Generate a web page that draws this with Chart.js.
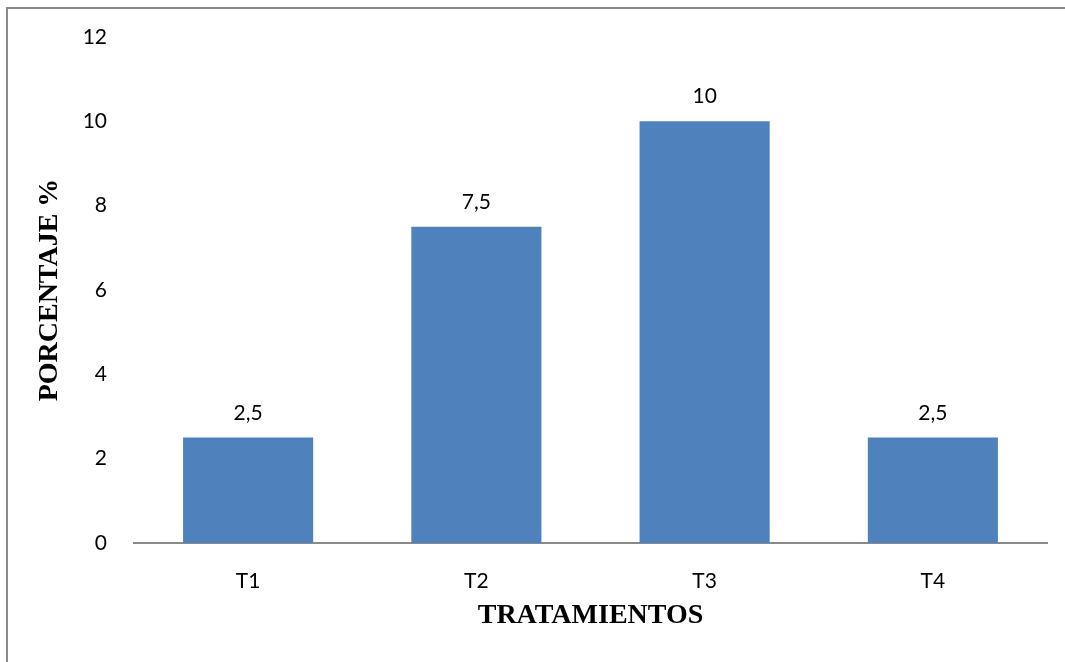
<!DOCTYPE html>
<html>
<head>
<meta charset="utf-8">
<script src="https://cdn.jsdelivr.net/npm/chart.js@4/dist/chart.umd.min.js"></script>
<style>
  html, body { margin: 0; padding: 0; background: #fff; }
  #wrap { position: relative; width: 1065px; height: 662px; }
</style>
</head>
<body>
<div id="wrap"><canvas id="chart" width="1065" height="662"></canvas></div>
<script>
// Porcentaje por tratamiento
const categories = ["T1", "T2", "T3", "T4"];
const values = [2.5, 7.5, 10, 2.5];
const yTicks = [0, 2, 4, 6, 8, 10, 12];

const TICK_FONT = { family: "Lato, 'Open Sans', sans-serif", size: 21 };
const TITLE_FONT = { family: "'Liberation Serif', 'Times New Roman', serif", size: 28, weight: "bold" };

const fmt = (v) => String(v).replace(".", ",");

// outer chart frame (only top and left edges are in view)
const framePlugin = {
  id: "frame",
  beforeDraw(chart) {
    const { ctx } = chart;
    ctx.save();
    ctx.strokeStyle = "#8a8a8a";
    ctx.lineWidth = 2;
    ctx.beginPath();
    ctx.moveTo(7, chart.height);
    ctx.lineTo(7, 8);
    ctx.lineTo(chart.width, 8);
    ctx.stroke();
    ctx.restore();
  },
};

// value labels over each bar
const valueLabels = {
  id: "valueLabels",
  afterDatasetsDraw(chart) {
    const { ctx } = chart;
    const meta = chart.getDatasetMeta(0);
    ctx.save();
    ctx.fillStyle = "#000";
    ctx.font = `${TICK_FONT.size}px ${TICK_FONT.family}`;
    ctx.textAlign = "center";
    ctx.textBaseline = "alphabetic";
    meta.data.forEach((bar, i) => {
      ctx.fillText(fmt(values[i]), bar.x, bar.y - 18);
    });
    ctx.restore();
  },
};

new Chart(document.getElementById("chart"), {
  type: "bar",
  data: {
    labels: categories,
    datasets: [{
      data: values,
      backgroundColor: "#4f81bd",
      borderWidth: 0,
      barPercentage: 0.57,
      categoryPercentage: 1,
    }],
  },
  options: {
    responsive: false,
    animation: false,
    layout: { padding: { top: 37, right: 18, left: 0, bottom: 0 } },
    plugins: {
      legend: { display: false },
      tooltip: { enabled: false },
    },
    scales: {
      x: {
        grid: { display: false, drawTicks: false },
        border: { display: true, color: "#8a8a8a", width: 2 },
        ticks: { color: "#000", font: TICK_FONT, padding: 26 },
        title: {
          display: true,
          text: "TRATAMIENTOS",
          color: "#000",
          font: TITLE_FONT,
          padding: { top: 0, bottom: 29 },
        },
        afterFit(scale) { scale.height = 119; },
      },
      y: {
        min: 0,
        max: 12,
        afterBuildTicks(scale) { scale.ticks = yTicks.map((v) => ({ value: v })); },
        grid: { display: false, drawTicks: false },
        border: { display: false },
        ticks: { color: "#000", font: TICK_FONT, padding: 27 },
        title: {
          display: true,
          text: "PORCENTAJE %",
          color: "#000",
          font: TITLE_FONT,
          padding: { top: 33, bottom: 0 },
        },
        afterFit(scale) {
          scale.width = 134;
          scale.paddingTop = 0;
          scale.paddingBottom = 0;
        },
      },
    },
  },
  plugins: [framePlugin, valueLabels],
});
</script>
</body>
</html>
